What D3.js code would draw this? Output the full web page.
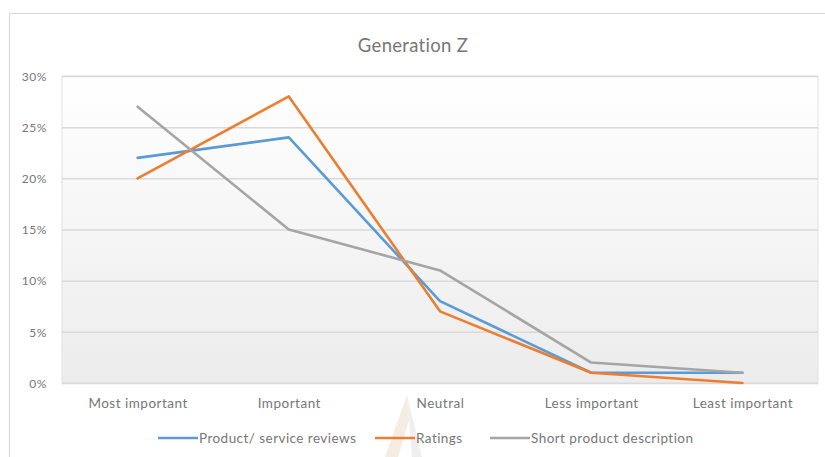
<!DOCTYPE html>
<html>
<head>
<meta charset="utf-8">
<script src="https://cdn.jsdelivr.net/npm/d3@7"></script>
<style>
  html, body { margin: 0; padding: 0; background: #ffffff; }
  svg { display: block; }
  text { font-family: "Lato", "Open Sans", sans-serif; }
</style>
</head>
<body>
<svg id="chart" width="825" height="457"></svg>
<script>
// Importance of product information for Generation Z (share of respondents)
const categories = ["Most important", "Important", "Neutral", "Less important", "Least important"];
const reviews = [0.22, 0.24, 0.08, 0.01, 0.01];
const ratings = [0.20, 0.28, 0.07, 0.01, 0.00];
const shortDescription = [0.27, 0.15, 0.11, 0.02, 0.01];
const seriesNames = ["Product/ service reviews", "Ratings", "Short product description"];
const yTicks = [0, 0.05, 0.10, 0.15, 0.20, 0.25, 0.30];

const seriesValues = [reviews, ratings, shortDescription];
const colors = ["#5b9bd5", "#ed7d31", "#a5a5a5"];
const textColor = "#777777";

const svg = d3.select("#chart");
const plot = { left: 62, right: 818, top: 76, bottom: 383 };

// chart area frame
svg.append("path")
  .attr("d", "M9.5,460 V13.5 H830")
  .attr("fill", "none")
  .attr("stroke", "#d9d9d9")
  .attr("stroke-width", 1.2);

// plot background gradient
const defs = svg.append("defs");
const grad = defs.append("linearGradient")
  .attr("id", "plotBg").attr("x1", 0).attr("y1", 0).attr("x2", 0).attr("y2", 1);
grad.append("stop").attr("offset", "0%").attr("stop-color", "#ffffff");
grad.append("stop").attr("offset", "100%").attr("stop-color", "#ececec");

svg.append("rect")
  .attr("x", plot.left).attr("y", plot.top)
  .attr("width", plot.right - plot.left).attr("height", plot.bottom - plot.top)
  .attr("fill", "url(#plotBg)")
  .attr("stroke", "#e2e2e2")
  .attr("stroke-width", 1);

const x = d3.scalePoint().domain(categories).range([plot.left, plot.right]).padding(0.5);
const y = d3.scaleLinear().domain([0, 0.30]).range([plot.bottom, plot.top]);

// gridlines and value labels
const yAxis = svg.append("g")
  .attr("transform", `translate(${plot.left},0)`)
  .call(d3.axisLeft(y).tickValues(yTicks).tickFormat(d3.format(".0%"))
    .tickSize(-(plot.right - plot.left)).tickPadding(15));
yAxis.select(".domain").remove();
yAxis.selectAll(".tick line").attr("stroke", "#dadada").attr("stroke-width", 1.5);
yAxis.selectAll(".tick text")
  .attr("fill", textColor).attr("font-size", 12).attr("letter-spacing", 0.6)
  .attr("dy", "0.35em");

// category labels
const xAxis = svg.append("g")
  .attr("transform", `translate(0,${plot.bottom})`)
  .call(d3.axisBottom(x).tickSize(0).tickPadding(15));
xAxis.select(".domain").remove();
xAxis.selectAll(".tick text")
  .attr("fill", textColor).attr("font-size", 13.5).attr("letter-spacing", 0.5);

// series lines
const line = d3.line()
  .x((d, i) => x(categories[i]))
  .y(d => y(d));

seriesValues.forEach((vals, i) => {
  svg.append("path")
    .datum(vals)
    .attr("d", line)
    .attr("fill", "none")
    .attr("stroke", colors[i])
    .attr("stroke-width", 2.6)
    .attr("stroke-linejoin", "round")
    .attr("stroke-linecap", "round");
});

// title
svg.append("text")
  .attr("x", 413).attr("y", 52)
  .attr("text-anchor", "middle")
  .attr("fill", textColor)
  .attr("font-size", 18.5)
  .attr("letter-spacing", 0.3)
  .text("Generation Z");

// faint mark under the legend
svg.append("path")
  .attr("d", "M407,395 L385,457 L398,457 L409,420 Z")
  .attr("fill", "#eddccb")
  .attr("opacity", 0.55);
svg.append("path")
  .attr("d", "M407,395 L422,457 L412,457 Z")
  .attr("fill", "#e2e2e2")
  .attr("opacity", 0.55);

// legend
const legendY = 438;
const legendItems = [
  { x: 158, name: seriesNames[0], color: colors[0] },
  { x: 375, name: seriesNames[1], color: colors[1] },
  { x: 490, name: seriesNames[2], color: colors[2] }
];
const legend = svg.append("g");
legendItems.forEach(it => {
  legend.append("line")
    .attr("x1", it.x).attr("x2", it.x + 40)
    .attr("y1", legendY).attr("y2", legendY)
    .attr("stroke", it.color).attr("stroke-width", 2.6);
  legend.append("text")
    .attr("x", it.x + 41).attr("y", legendY)
    .attr("dy", "0.35em")
    .attr("fill", textColor)
    .attr("font-size", 13.5)
    .attr("letter-spacing", 0.45)
    .text(it.name);
});
</script>
</body>
</html>
